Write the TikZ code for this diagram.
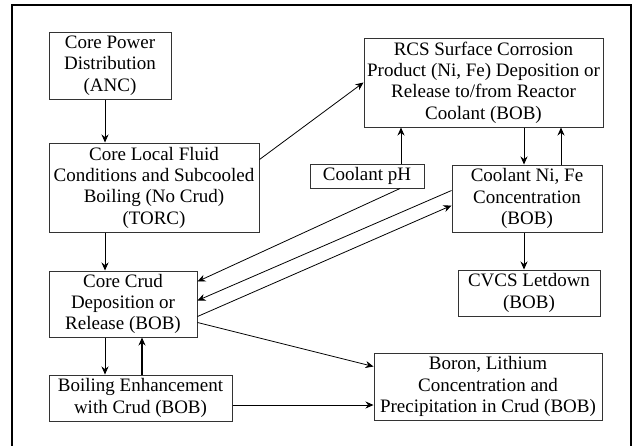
\documentclass[tikz,border=0pt]{standalone}
\usepackage{fontspec}
\setmainfont{Liberation Serif}
\usetikzlibrary{arrows.meta}
\begin{document}
\begin{tikzpicture}[x=1pt,y=-1pt,
  box/.style={draw=black!80,line width=1pt,inner sep=0pt,align=center,
    font=\fontsize{19}{21.3}\selectfont},
  arr/.style={draw=black,line width=0.8pt,-{Stealth[length=8pt,width=7pt]}},
  frame/.style={draw=black,line width=2.5pt}]
\useasboundingbox (0,0) rectangle (636,445);
\draw[frame] (12,447) -- (12,5) -- (631,5) -- (631,447);

\node[box,minimum width=122pt,minimum height=67pt] (cpd) at (110,65.5) {Core Power\\Distribution\\(ANC)};
\node[box,minimum width=210pt,minimum height=89pt] (clf) at (154,187.5) {Core Local Fluid\\Conditions and Subcooled\\Boiling (No Crud)\\(TORC)};
\node[box,minimum width=148pt,minimum height=66pt] (ccd) at (123,304) {Core Crud\\Deposition or\\Release (BOB)};
\node[box,minimum width=183pt,minimum height=46pt] (bec) at (140.5,398) {Boiling Enhancement\\with Crud (BOB)};
\node[box,minimum width=239pt,minimum height=89pt] (rcs) at (483.5,82.5) {RCS Surface Corrosion\\Product (Ni, Fe) Deposition or\\Release to/from Reactor\\Coolant (BOB)};
\node[box,minimum width=114pt,minimum height=24pt] (ph) at (367,176) {Coolant pH};
\node[box,minimum width=150pt,minimum height=67pt] (cnf) at (527,198.5) {Coolant Ni, Fe\\Concentration\\(BOB)};
\node[box,minimum width=142pt,minimum height=46pt] (cvcs) at (529,293) {CVCS Letdown\\(BOB)};
\node[box,minimum width=228pt,minimum height=67pt] (bor) at (488,386.5) {Boron, Lithium\\Concentration and\\Precipitation in Crud (BOB)};

% vertical connectors
\draw[arr] ([xshift=-5pt]cpd.south) -- ([xshift=-5pt]cpd.south |- clf.north);
\draw[arr] ([xshift=-18pt]ccd.north |- clf.south) -- ([xshift=-18pt]ccd.north);
\draw[arr] ([xshift=-18pt]ccd.south) -- ([xshift=-18pt]ccd.south |- bec.north);
\draw[arr,line width=1.3pt] ([xshift=19pt]ccd.south |- bec.north) -- ([xshift=19pt]ccd.south);
\draw[arr] ([xshift=-3pt]cnf.north |- rcs.south) -- ([xshift=-3pt]cnf.north);
\draw[arr] ([xshift=34pt]cnf.north) -- ([xshift=34pt]cnf.north |- rcs.south);
\draw[arr] ([xshift=34pt]ph.north) -- ([xshift=34pt]ph.north |- rcs.south);
\draw[arr] ([xshift=-5pt]cvcs.north |- cnf.south) -- ([xshift=-5pt]cvcs.north);

% diagonal connectors
\draw[arr] ([yshift=-17pt]clf.north east) -- ([yshift=-45pt]rcs.north west);
\draw[arr] ([xshift=33pt]ph.south) -- ([yshift=-11pt]ccd.north east);
\draw[arr] ([yshift=-26pt]cnf.north west) -- ([yshift=-30pt]ccd.north east);
\draw[arr] ([yshift=-46pt]ccd.north east) -- ([yshift=-41pt]cnf.north west);
\draw[arr] ([yshift=-52pt]ccd.north east) -- ([yshift=-14pt]bor.north west);
\draw[arr] ([yshift=-7pt]bec.east) -- ([yshift=-7pt]bec.east -| bor.west);
\end{tikzpicture}
\end{document}
